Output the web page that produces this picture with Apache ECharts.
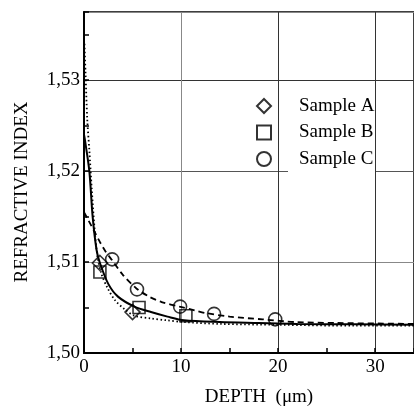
<!DOCTYPE html>
<html>
<head>
<meta charset="utf-8">
<script src="https://cdn.jsdelivr.net/npm/echarts@6/dist/echarts.min.js"></script>
<style>
html,body{margin:0;padding:0;background:#fff;}
#chart{width:414px;height:408px;}
</style>
</head>
<body>
<div id="chart"></div>
<script>
// ---- data ----
const seriesNames = ['Sample A', 'Sample B', 'Sample C'];
const sampleA = [[1.64, 1.5099], [5.0, 1.5045]];
const sampleB = [[1.64, 1.5089], [5.67, 1.5050], [10.5, 1.5041]];
const sampleC = [[2.9, 1.5103], [5.46, 1.5070], [9.9, 1.5051], [13.4, 1.5043], [19.7, 1.5037]];

// fitted curves
const fitSolid = [[0, 1.5240], [0.1, 1.5234], [0.55, 1.5200], [0.89, 1.5150], [1.3, 1.5113], [1.64, 1.5099],
  [2.5, 1.5076], [3.5, 1.5062], [5.2, 1.5051], [6.9, 1.5045], [8.6, 1.5040], [10.3, 1.5036],
  [14, 1.5034], [18, 1.5033], [22, 1.5032], [28, 1.50315], [34, 1.5031]];
const fitDashed = [[0, 1.5155], [0.5, 1.5145], [1.0, 1.5135], [1.64, 1.5122], [2.2, 1.5112], [2.9, 1.5102],
  [4.0, 1.5086], [5.4, 1.5071], [6.7, 1.5062], [8.0, 1.5056], [9.85, 1.5051], [11.4, 1.5047],
  [12.5, 1.5044], [15, 1.5040], [18.4, 1.5037], [21.8, 1.5034], [26, 1.5033], [34, 1.5032]];
const fitDotted = [[0.05, 1.5340], [0.15, 1.5310], [0.34, 1.5256], [0.55, 1.5223], [0.8, 1.5180], [1.1, 1.5135],
  [1.4, 1.5105], [1.8, 1.5087], [2.4, 1.5072], [3.2, 1.5058], [4.2, 1.5048], [5.2, 1.5041],
  [6.9, 1.5038], [8.5, 1.5036], [10.3, 1.5034], [14, 1.5032], [20, 1.5031], [28, 1.5030], [34, 1.5030]];

const xTickLabels = ['0', '10', '20', '30'];
const yTickLabels = ['1,50', '1,51', '1,52', '1,53'];
const xTitle = 'DEPTH  (\u03bcm)';
const yTitle = 'REFRACTIVE INDEX';

// ---- chart ----
const FONT = '"Liberation Serif", "Times New Roman", serif';
const chart = echarts.init(document.getElementById('chart'), null, {renderer: 'canvas'});

function xLabel(v) {
  const i = Math.round(v / 10);
  return (Math.abs(v - i * 10) < 1e-6 && xTickLabels[i] !== undefined) ? xTickLabels[i] : '';
}
function yLabel(v) {
  const i = Math.round((v - 1.5) / 0.01);
  return (Math.abs(v - 1.5 - i * 0.01) < 1e-7 && yTickLabels[i] !== undefined) ? yTickLabels[i] : '';
}

const markerStyle = {color: 'transparent', borderColor: '#000', borderWidth: 1.6};

chart.setOption({
  animation: false,
  backgroundColor: '#fff',
  grid: {left: 84, top: 12, right: -2, bottom: 55, show: true, borderColor: '#000', borderWidth: 1.5, backgroundColor: 'transparent'},
  xAxis: [
    {
      type: 'value', min: 0, max: 34, interval: 10, position: 'bottom',
      axisLine: {show: true, onZero: false, lineStyle: {color: '#000', width: 2}},
      axisTick: {show: false},
      axisLabel: {formatter: xLabel, showMaxLabel: false, color: '#000', fontFamily: FONT, fontSize: 19, margin: 5},
      splitLine: {show: true, lineStyle: {color: ['#888', '#888', '#333', '#333'], width: 1}}
    },
    {
      type: 'value', min: 0, max: 34, interval: 5, position: 'bottom',
      axisLine: {show: false},
      axisTick: {show: true, inside: true, length: 5, lineStyle: {color: '#000', width: 1.5}},
      axisLabel: {show: false},
      splitLine: {show: false}
    }
  ],
  yAxis: [
    {
      type: 'value', min: 1.50, max: 1.5375, interval: 0.01, position: 'left',
      axisLine: {show: true, onZero: false, lineStyle: {color: '#000', width: 2}},
      axisTick: {show: false},
      axisLabel: {formatter: yLabel, showMaxLabel: false, color: '#000', fontFamily: FONT, fontSize: 19, margin: 4},
      splitLine: {show: true, lineStyle: {color: ['#888', '#888', '#555', '#333'], width: 1}}
    },
    {
      type: 'value', min: 1.50, max: 1.5375, interval: 0.005, position: 'left',
      axisLine: {show: false},
      axisTick: {show: true, inside: true, length: 5, lineStyle: {color: '#000', width: 1.5}},
      axisLabel: {show: false},
      splitLine: {show: false}
    }
  ],
  legend: {
    orient: 'vertical', left: 256, top: 96, padding: 0,
    itemWidth: 14, itemHeight: 14, itemGap: 6.5,
    selectedMode: false,
    textStyle: {fontFamily: FONT, fontSize: 19, color: '#000', lineHeight: 20, padding: [0, 0, 0, 23]},
    data: seriesNames
  },
  graphic: [
    {type: 'rect', z: 3, shape: {x: 288, y: 93, width: 87, height: 84}, style: {fill: '#fff'}},
    {type: 'text', z: 5, x: 22, y: 192, rotation: Math.PI / 2,
      style: {text: yTitle, font: '19px ' + FONT, fill: '#000', align: 'center', verticalAlign: 'middle'}},
    {type: 'text', z: 5, x: 259, y: 397,
      style: {text: xTitle, font: '19px ' + FONT, fill: '#000', align: 'center', verticalAlign: 'middle'}}
  ],
  series: [
    {name: 'fit A', type: 'line', data: fitDotted, smooth: 0.3, showSymbol: false, silent: true, z: 2,
      lineStyle: {color: '#000', width: 1.8, type: [1.5, 2.5]}},
    {name: 'fit B', type: 'line', data: fitSolid, smooth: 0.3, showSymbol: false, silent: true, z: 2,
      lineStyle: {color: '#000', width: 2}},
    {name: 'fit C', type: 'line', data: fitDashed, smooth: 0.3, showSymbol: false, silent: true, z: 2,
      lineStyle: {color: '#000', width: 1.8, type: [6, 4]}},
    {name: seriesNames[0], type: 'scatter', data: sampleA, symbol: 'diamond', symbolSize: [15, 15], z: 3, itemStyle: markerStyle},
    {name: seriesNames[1], type: 'scatter', data: sampleB, symbol: 'rect', symbolSize: 12, z: 3, itemStyle: markerStyle},
    {name: seriesNames[2], type: 'scatter', data: sampleC, symbol: 'circle', symbolSize: 13, z: 3, itemStyle: markerStyle}
  ]
});
</script>
</body>
</html>
